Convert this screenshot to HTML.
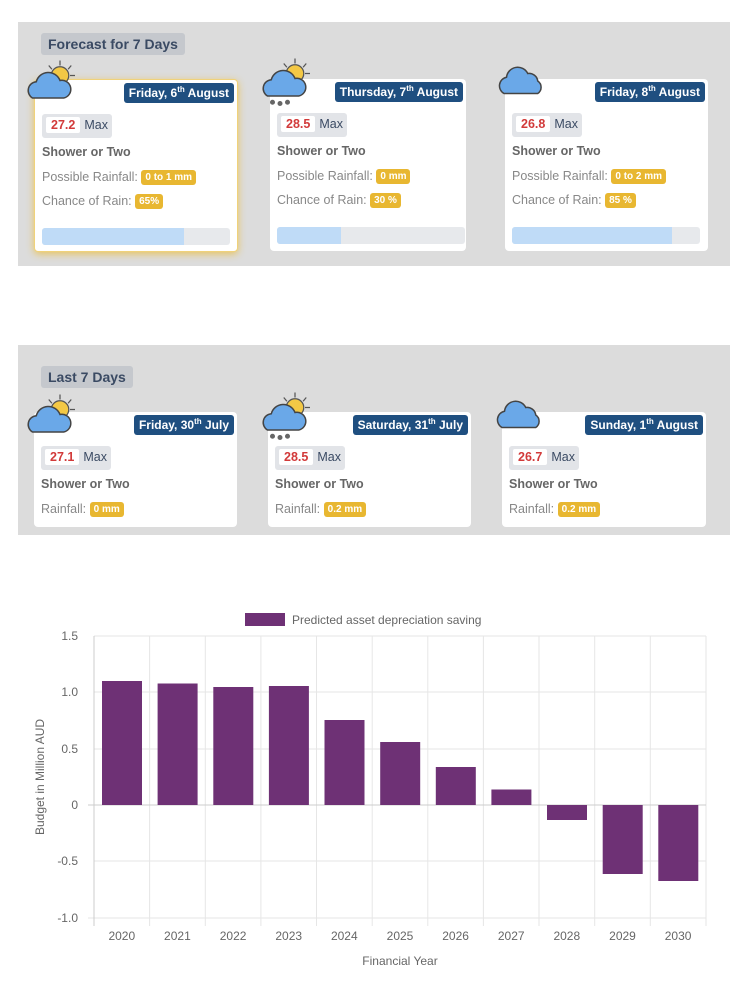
<!DOCTYPE html>
<html><head><meta charset="utf-8"><style>
*{margin:0;padding:0;box-sizing:border-box}
body{width:750px;height:1000px;background:#fff;font-family:"Liberation Sans",Arial,sans-serif;position:relative;overflow:hidden}
.sec{position:absolute;left:18px;width:712px;background:#dcdcdc}
.title{position:absolute;background:#c5c8cd;color:#3a4a63;font-weight:bold;font-size:14px;padding:3px 7px;border-radius:3px}
.card{position:absolute;background:#fff;border-radius:4px}
.date{position:absolute;right:3px;top:3px;background:#1f4f80;color:#fff;font-weight:bold;font-size:12px;padding:3px 5px;border-radius:3px;white-space:nowrap}
.date sup{font-size:8px;line-height:0}
.temp{position:absolute;left:7px;top:34px;height:24px;background:#e2e4e8;border-radius:3px;padding:3px 4px;font-size:12.5px;color:#3a4a63;white-space:nowrap}
.temp b{display:inline-block;background:#fff;color:#d23a3a;padding:1px 5px;border-radius:2px;margin-right:4px}
.cond{position:absolute;left:7px;top:65px;font-weight:bold;color:#666;font-size:12.5px}
.ln{position:absolute;left:7px;font-size:12.5px;color:#888;white-space:nowrap}
.bd{display:inline-block;background:#e8b731;color:#fff;font-weight:bold;font-size:10px;padding:2px 4px;border-radius:3px;vertical-align:1px}
.bar{position:absolute;left:7px;top:148px;width:188px;height:17px;background:#e7e9ec;border-radius:3px;overflow:hidden}
.bar i{display:block;height:100%;background:#bfdbf7}
.ic{position:absolute}
</style></head><body>
<svg width="0" height="0" style="position:absolute"><defs>
<g id="cs"><g stroke="#555" stroke-width="1"><line x1="28" y1="2" x2="28" y2="6"/><line x1="37" y1="6" x2="34.5" y2="9"/><line x1="40" y1="14" x2="36" y2="14"/><line x1="19" y1="6" x2="21.5" y2="9"/></g><circle cx="28" cy="14" r="7" fill="#f3c845" stroke="#555"/><path d="M6 32 a7 7 0 0 1 3-13 a10 10 0 0 1 19 -1 a7 7 0 0 1 3 14 z" fill="#6aa8e8" stroke="#444" stroke-width="1.2"/></g>
<g id="cc"><path d="M8 30 a7 7 0 0 1 2-13 a9 9 0 0 1 17-3 a7 7 0 0 1 8 6 a6 6 0 0 1 0 10z" fill="#6aa8e8" stroke="#444" stroke-width="1.2"/></g>
</defs></svg>

<div class="sec" style="top:22px;height:244px"></div>
<div class="title" style="left:41px;top:33px">Forecast for 7 Days</div>
<div class="card" style="left:34px;top:79px;width:204px;height:173px;border:1px solid #f0d27a;box-shadow:0 2px 8px #e8c35c">
<div class="date">Friday, 6<sup>th</sup> August</div>
<div class="temp"><b>27.2</b>Max</div><div class="cond">Shower or Two</div>
<div class="ln" style="top:90px">Possible Rainfall: <span class="bd">0 to 1 mm</span></div>
<div class="ln" style="top:114px">Chance of Rain: <span class="bd">65%</span></div>
<div class="bar"><i style="width:142px"></i></div></div>
<div class="card" style="left:270px;top:79px;width:196px;height:172px">
<div class="date">Thursday, 7<sup>th</sup> August</div>
<div class="temp"><b>28.5</b>Max</div><div class="cond">Shower or Two</div>
<div class="ln" style="top:90px">Possible Rainfall: <span class="bd">0 mm</span></div>
<div class="ln" style="top:114px">Chance of Rain: <span class="bd">30 %</span></div>
<div class="bar"><i style="width:64px"></i></div></div>
<div class="card" style="left:505px;top:79px;width:203px;height:172px">
<div class="date">Friday, 8<sup>th</sup> August</div>
<div class="temp"><b>26.8</b>Max</div><div class="cond">Shower or Two</div>
<div class="ln" style="top:90px">Possible Rainfall: <span class="bd">0 to 2 mm</span></div>
<div class="ln" style="top:114px">Chance of Rain: <span class="bd">85 %</span></div>
<div class="bar"><i style="width:160px"></i></div></div>
<svg class="ic" style="left:25px;top:58px" width="54" height="44"><g transform="scale(1.25)"><use href="#cs"/></g></svg>
<svg class="ic" style="left:260px;top:56px" width="54" height="50"><g transform="scale(1.25)"><use href="#cs"/><g fill="#666"><circle cx="10" cy="37" r="2"/><circle cx="16" cy="38" r="2"/><circle cx="22" cy="37" r="2"/></g></g></svg>
<svg class="ic" style="left:494px;top:56px" width="54" height="44"><g transform="scale(1.25)"><use href="#cc"/></g></svg>

<div class="sec" style="top:345px;height:190px"></div>
<div class="title" style="left:41px;top:366px">Last 7 Days</div>
<div class="card" style="left:34px;top:412px;width:203px;height:115px">
<div class="date">Friday, 30<sup>th</sup> July</div>
<div class="temp"><b>27.1</b>Max</div><div class="cond">Shower or Two</div>
<div class="ln" style="top:90px">Rainfall: <span class="bd">0 mm</span></div></div>
<div class="card" style="left:268px;top:412px;width:203px;height:115px">
<div class="date">Saturday, 31<sup>th</sup> July</div>
<div class="temp"><b>28.5</b>Max</div><div class="cond">Shower or Two</div>
<div class="ln" style="top:90px">Rainfall: <span class="bd">0.2 mm</span></div></div>
<div class="card" style="left:502px;top:412px;width:204px;height:115px">
<div class="date">Sunday, 1<sup>th</sup> August</div>
<div class="temp"><b>26.7</b>Max</div><div class="cond">Shower or Two</div>
<div class="ln" style="top:90px">Rainfall: <span class="bd">0.2 mm</span></div></div>
<svg class="ic" style="left:25px;top:392px" width="54" height="44"><g transform="scale(1.25)"><use href="#cs"/></g></svg>
<svg class="ic" style="left:260px;top:390px" width="54" height="50"><g transform="scale(1.25)"><use href="#cs"/><g fill="#666"><circle cx="10" cy="37" r="2"/><circle cx="16" cy="38" r="2"/><circle cx="22" cy="37" r="2"/></g></g></svg>
<svg class="ic" style="left:492px;top:390px" width="54" height="44"><g transform="scale(1.25)"><use href="#cc"/></g></svg>

<svg style="position:absolute;left:0;top:600px" width="750" height="400" font-family="Liberation Sans,Arial,sans-serif">
<g transform="translate(0,-600)">
<rect x="245" y="613" width="40" height="13" fill="#6e3175"/>
<text x="292" y="624" font-size="12" fill="#666">Predicted asset depreciation saving</text>
<g stroke="#e6e6e6" stroke-width="1">
<line x1="94" y1="636" x2="706" y2="636"/><line x1="94" y1="692" x2="706" y2="692"/><line x1="94" y1="749" x2="706" y2="749"/><line x1="94" y1="861" x2="706" y2="861"/><line x1="88" y1="918" x2="706" y2="918"/>
<line x1="149.6" y1="636" x2="149.6" y2="926"/><line x1="205.3" y1="636" x2="205.3" y2="926"/><line x1="260.9" y1="636" x2="260.9" y2="926"/><line x1="316.5" y1="636" x2="316.5" y2="926"/><line x1="372.2" y1="636" x2="372.2" y2="926"/><line x1="427.8" y1="636" x2="427.8" y2="926"/><line x1="483.4" y1="636" x2="483.4" y2="926"/><line x1="539" y1="636" x2="539" y2="926"/><line x1="594.7" y1="636" x2="594.7" y2="926"/><line x1="650.3" y1="636" x2="650.3" y2="926"/><line x1="706" y1="636" x2="706" y2="926"/>
</g>
<line x1="94" y1="636" x2="94" y2="926" stroke="#ccc"/>
<line x1="88" y1="805" x2="706" y2="805" stroke="#ccc"/>
<g fill="#6e3175">
<rect x="102" y="681" width="40" height="124"/><rect x="157.6" y="683.5" width="40" height="121.5"/><rect x="213.3" y="687" width="40" height="118"/><rect x="268.9" y="686" width="40" height="119"/><rect x="324.5" y="720" width="40" height="85"/><rect x="380.2" y="742" width="40" height="63"/><rect x="435.8" y="767" width="40" height="38"/><rect x="491.4" y="789.5" width="40" height="15.5"/><rect x="547" y="805" width="40" height="15"/><rect x="602.7" y="805" width="40" height="69"/><rect x="658.3" y="805" width="40" height="76"/>
</g>
<g font-size="12" fill="#666" text-anchor="end">
<text x="78" y="640">1.5</text><text x="78" y="696">1.0</text><text x="78" y="753">0.5</text><text x="78" y="809">0</text><text x="78" y="865">-0.5</text><text x="78" y="922">-1.0</text></g>
<g font-size="12" fill="#666" text-anchor="middle">
<text x="121.8" y="940">2020</text><text x="177.4" y="940">2021</text><text x="233.1" y="940">2022</text><text x="288.7" y="940">2023</text><text x="344.3" y="940">2024</text><text x="400" y="940">2025</text><text x="455.6" y="940">2026</text><text x="511.2" y="940">2027</text><text x="566.8" y="940">2028</text><text x="622.5" y="940">2029</text><text x="678.1" y="940">2030</text>
<text x="400" y="965">Financial Year</text>
<text transform="translate(44,777) rotate(-90)">Budget in Million AUD</text></g>
</g></svg>
</body></html>
